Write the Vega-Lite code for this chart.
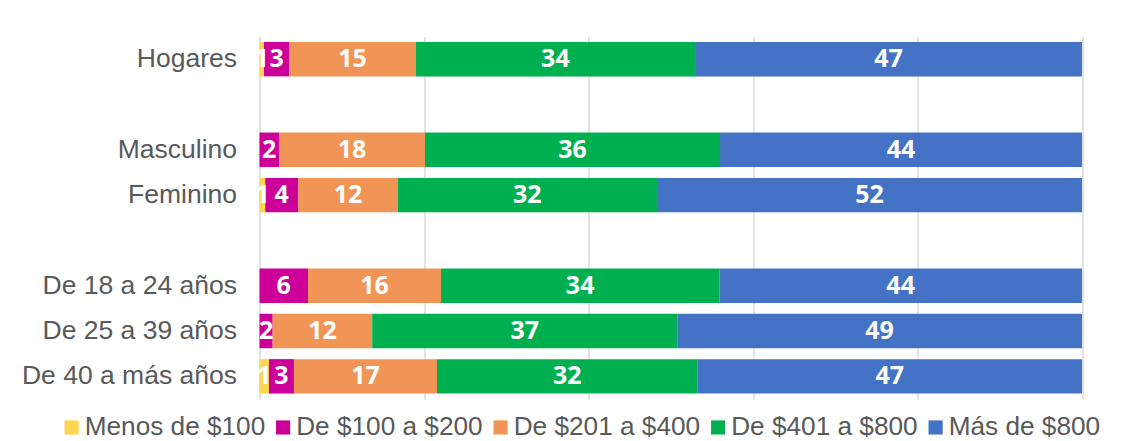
{
  "$schema": "https://vega.github.io/schema/vega-lite/v6.json",
  "width": 822.5,
  "height": 362.5,
  "autosize": {"type": "none"},
  "padding": {"left": 259.5, "top": 36.5, "right": 45, "bottom": 42},
  "background": "white",
  "config": {"view": {"stroke": null}},
  "data": {
    "values": [
      {"grupo": "Hogares", "Menos de $100": 0.55, "De $100 a $200": 3.08, "De $201 a $400": 15.37, "De $401 a $800": 33.96, "Más de $800": 47.05},
      {"grupo": "Masculino", "Menos de $100": 0, "De $100 a $200": 2.37, "De $201 a $400": 17.75, "De $401 a $800": 35.87, "Más de $800": 44.01},
      {"grupo": "Feminino", "Menos de $100": 0.7, "De $100 a $200": 4.01, "De $201 a $400": 12.09, "De $401 a $800": 31.53, "Más de $800": 51.67},
      {"grupo": "De 18 a 24 años", "Menos de $100": 0, "De $100 a $200": 5.9, "De $201 a $400": 16.17, "De $401 a $800": 33.84, "Más de $800": 44.1},
      {"grupo": "De 25 a 39 años", "Menos de $100": 0, "De $100 a $200": 1.6, "De $201 a $400": 12.1, "De $401 a $800": 37.08, "Más de $800": 49.2},
      {"grupo": "De 40 a más años", "Menos de $100": 1.15, "De $100 a $200": 3.04, "De $201 a $400": 17.39, "De $401 a $800": 31.7, "Más de $800": 46.72}
    ]
  },
  "transform": [
    {"fold": ["Menos de $100", "De $100 a $200", "De $201 a $400", "De $401 a $800", "Más de $800"], "as": ["rango", "valor"]},
    {"stack": "valor", "groupby": ["grupo"], "offset": "normalize", "as": ["x0", "x1"]},
    {"calculate": "(datum.x0 + datum.x1) / 2", "as": "xm"}
  ],
  "encoding": {
    "y": {
      "field": "grupo",
      "type": "nominal",
      "scale": {
        "domain": ["Hogares", "_b1", "Masculino", "Feminino", "_b2", "De 18 a 24 años", "De 25 a 39 años", "De 40 a más años"],
        "paddingInner": 0.24,
        "paddingOuter": 0.12
      },
      "axis": {
        "title": null,
        "ticks": false,
        "domain": false,
        "labelFontSize": 26.5,
        "labelFont": "Liberation Sans",
        "labelColor": "#595959",
        "labelPadding": 23,
        "labelLimit": 0,
        "labelExpr": "indexof(datum.label, '_b') == 0 ? '' : datum.label"
      }
    }
  },
  "layer": [
    {
      "mark": {"type": "bar"},
      "encoding": {
        "x": {
          "field": "x0",
          "type": "quantitative",
          "scale": {"domain": [0, 1], "nice": false},
          "axis": {
            "title": null,
            "grid": true,
            "values": [0, 0.2, 0.4, 0.6, 0.8, 1],
            "labels": false,
            "ticks": false,
            "domain": false,
            "gridColor": "#d9d9d9",
            "gridWidth": 1.5
          }
        },
        "x2": {"field": "x1"},
        "color": {
          "field": "rango",
          "type": "nominal",
          "scale": {
            "domain": ["Menos de $100", "De $100 a $200", "De $201 a $400", "De $401 a $800", "Más de $800"],
            "range": ["#FFD553", "#CC0099", "#F09556", "#00B050", "#4472C4"]
          },
          "legend": {
            "title": null,
            "orient": "none",
            "direction": "horizontal",
            "columns": 5,
            "legendX": -201,
            "legendY": 377.5,
            "symbolType": "square",
            "symbolSize": 200,
            "symbolStrokeWidth": 0,
            "labelOffset": 0,
            "columnPadding": 4.5,
            "labelFontSize": 26.2,
            "labelFont": "Liberation Sans",
            "labelColor": "#595959",
            "labelLimit": 0
          }
        }
      }
    },
    {
      "transform": [{"filter": "datum.valor > 0"}],
      "mark": {"type": "text", "color": "white", "font": "Open Sans", "fontWeight": "bold", "fontSize": 25, "baseline": "middle", "align": "center"},
      "encoding": {
        "x": {"field": "xm", "type": "quantitative"},
        "text": {"field": "valor", "type": "quantitative", "format": ".0f"}
      }
    }
  ]
}
